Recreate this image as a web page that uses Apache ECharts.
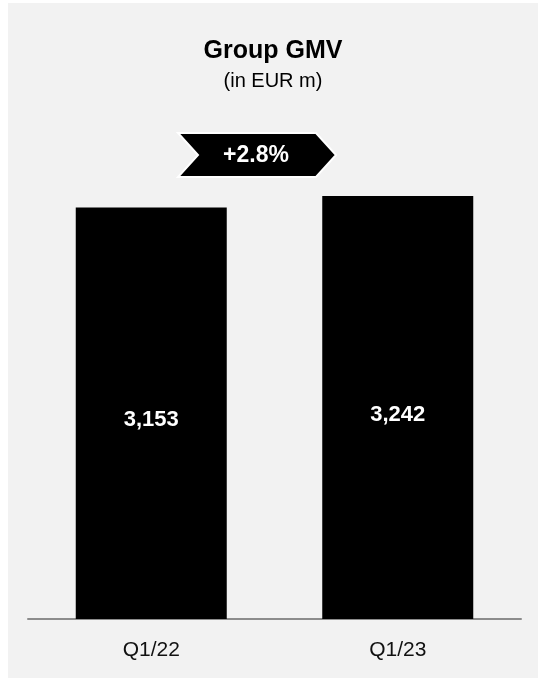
<!DOCTYPE html>
<html>
<head>
<meta charset="utf-8">
<script src="https://cdn.jsdelivr.net/npm/echarts@6/dist/echarts.min.js"></script>
<style>
  html, body { margin: 0; padding: 0; background: #fff; }
  #chart { width: 538px; height: 679px; }
</style>
</head>
<body>
<div id="chart"></div>
<script>
// Group GMV, quarterly comparison
var quarters = ['Q1/22', 'Q1/23'];
var gmv = [3153, 3242];
var growthLabel = '+2.8%';

var fontFamily = '"Liberation Sans", Arial, Helvetica, sans-serif';

var myChart = echarts.init(document.getElementById('chart'), null, { renderer: 'canvas' });

var option = {
  backgroundColor: '#fff',
  animation: false,
  title: {
    text: 'Group GMV',
    subtext: '(in EUR m)',
    left: 273,
    top: 39,
    padding: 0,
    textAlign: 'center',
    itemGap: 7,
    textStyle: {
      fontFamily: fontFamily,
      fontSize: 25,
      fontWeight: 'bold',
      color: '#000'
    },
    subtextStyle: {
      fontFamily: fontFamily,
      fontSize: 20,
      color: '#000'
    }
  },
  grid: {
    left: 28,
    right: 17,
    top: 97,
    bottom: 60
  },
  xAxis: {
    type: 'category',
    data: quarters,
    axisLine: { lineStyle: { color: '#8c8c8c', width: 2 } },
    axisTick: { show: false },
    axisLabel: {
      margin: 21,
      fontFamily: fontFamily,
      fontSize: 21,
      color: '#111'
    }
  },
  yAxis: {
    type: 'value',
    min: 0,
    max: 4000,
    show: false,
    splitLine: { show: false }
  },
  series: [
    {
      name: 'GMV',
      type: 'bar',
      data: gmv,
      barWidth: 151,
      itemStyle: { color: '#000' },
      label: {
        show: true,
        position: 'inside',
        offset: [0, 7],
        fontFamily: fontFamily,
        fontSize: 22,
        fontWeight: 'bold',
        color: '#fff',
        formatter: function (p) {
          return p.value.toLocaleString('en-US');
        }
      }
    }
  ],
  graphic: [
    {
      // light grey panel behind everything
      type: 'rect',
      z: -10,
      silent: true,
      shape: { x: 8, y: 3, width: 530, height: 675 },
      style: { fill: '#f2f2f2' }
    },
    {
      // growth chevron
      type: 'polygon',
      z: 10,
      shape: {
        points: [[178, 133], [316, 133], [336, 155], [316, 177], [178, 177], [198, 155]]
      },
      style: { fill: '#000', stroke: '#fff', lineWidth: 2 }
    },
    {
      type: 'text',
      z: 11,
      x: 256,
      y: 156,
      style: {
        text: growthLabel,
        fill: '#fff',
        fontFamily: fontFamily,
        fontSize: 23,
        fontWeight: 'bold',
        align: 'center',
        verticalAlign: 'middle'
      }
    }
  ]
};

myChart.setOption(option);
</script>
</body>
</html>
